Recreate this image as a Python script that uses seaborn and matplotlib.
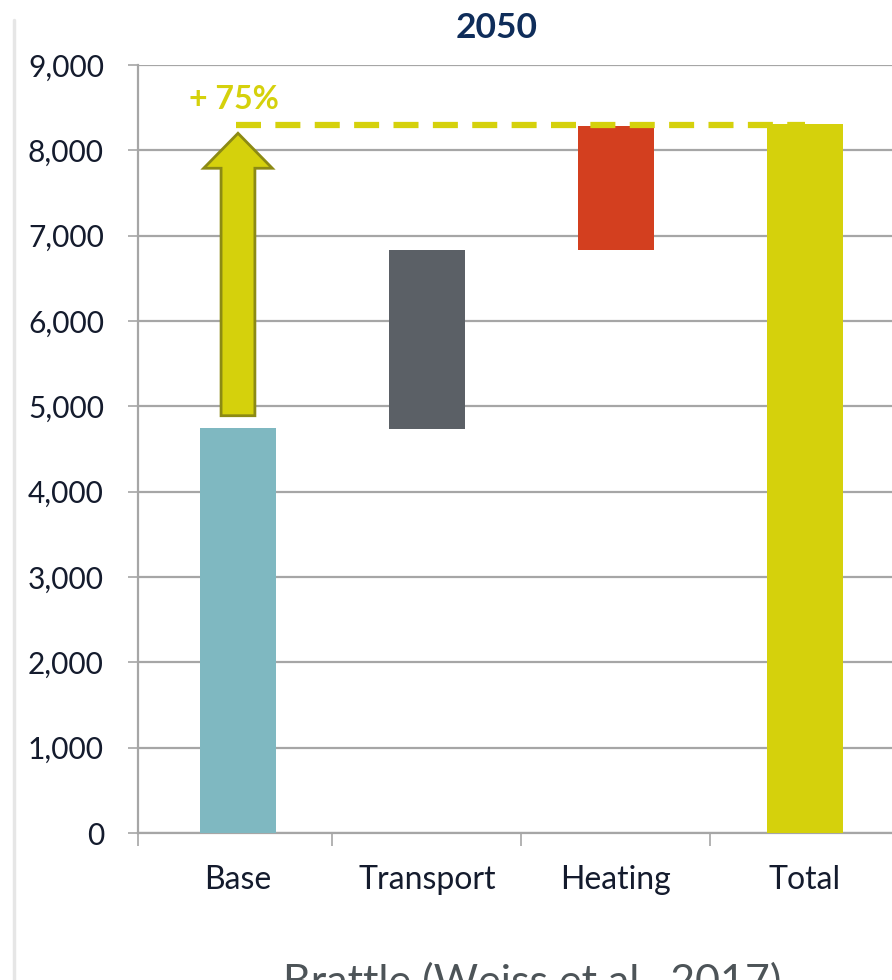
import matplotlib
matplotlib.use("Agg")
import matplotlib.pyplot as plt
from matplotlib.patches import FancyArrow
from matplotlib.lines import Line2D
from matplotlib.ticker import FuncFormatter, FixedLocator
import seaborn as sns
import pandas as pd

# Waterfall of electricity demand in 2050
categories = ["Base", "Transport", "Heating", "Total"]
seg_start = [0, 4730, 6830, 0]
seg_end = [4750, 6830, 8290, 8310]
bar_colors = ["#7fb8c1", "#5b6066", "#d33f1f", "#d5d10c"]

growth_label = "+ 75%"
arrow_from = 4890
arrow_to = 8200
total_level = 8300

y_ticks = [0, 1000, 2000, 3000, 4000, 5000, 6000, 7000, 8000, 9000]

sns.set_theme(style="white")
plt.rcParams["font.family"] = ["Lato", "DejaVu Sans"]

fig = plt.figure(figsize=(8.92, 9.8), dpi=100)
x_left = -0.529
x_right = 3.5
ax = fig.add_axes([138 / 892, 147 / 980, 761.5 / 892, 768 / 980])

df = pd.DataFrame({"category": categories, "top": seg_end})
sns.barplot(data=df, x="category", y="top", hue="category", palette=bar_colors,
            order=categories, hue_order=categories, width=0.4, saturation=1,
            legend=False, ax=ax, zorder=3, edgecolor="none")

# lift each bar so it spans from its start to its end
for patch, lo, hi in zip(ax.patches, seg_start, seg_end):
    patch.set_y(lo)
    patch.set_height(hi - lo)

ax.set_xlim(x_left, x_right)
ax.set_ylim(0, 9000)
ax.set_xlabel("")
ax.set_ylabel("")

# horizontal grid
ax.yaxis.set_major_locator(FixedLocator(y_ticks))
ax.yaxis.set_major_formatter(FuncFormatter(lambda v, p: f"{int(v):,}"))
ax.grid(axis="y", color="#a6a6a6", linewidth=1.6, zorder=0)
ax.grid(axis="x", visible=False)
ax.set_axisbelow(True)

for side in ["top", "right"]:
    ax.spines[side].set_visible(False)
for side in ["left", "bottom"]:
    ax.spines[side].set_color("#a6a6a6")
    ax.spines[side].set_linewidth(1.6)

tick_color = "#141b2d"
ax.tick_params(axis="y", which="major", length=7.5, width=1.2, color="#a6a6a6",
               direction="out", pad=17, labelsize=21.5, labelcolor=tick_color, left=True)
ax.set_xticks(range(len(categories)))
ax.set_xticklabels(categories)
ax.set_xticks([x_left, 0.5, 1.5, 2.5, x_right], minor=True)
ax.tick_params(axis="x", which="major", length=0, pad=23, labelsize=23,
               labelcolor=tick_color, bottom=True)
ax.tick_params(axis="x", which="minor", length=9, width=1.2, color="#a6a6a6",
               direction="out", bottom=True)

# growth arrow and level line
ax.add_patch(FancyArrow(0.0, arrow_from, 0, arrow_to - arrow_from,
                        width=0.179, head_width=0.363, head_length=410,
                        length_includes_head=True, facecolor="#d5d10c",
                        edgecolor="#8c8a14", linewidth=2, zorder=4))
ax.plot([-0.01, 3.0], [total_level, total_level], color="#d5d10c",
        linewidth=4.5, linestyle=(0, (4.0, 2.3)), solid_capstyle="butt",
        dash_capstyle="butt", zorder=5)
ax.text(-0.02, 8590, growth_label, color="#d5d10c", fontsize=23,
        fontweight="bold", ha="center", va="center", zorder=6)

fig.text(497 / 892, 952 / 980, "2050", color="#0f2d5a", fontsize=25.5,
         fontweight="bold", ha="center", va="center")

fig.text(532 / 892, -15 / 980, "Brattle (Weiss et al., 2017)", color="#4d5458",
         fontsize=31, ha="center", va="baseline")

# frame edge along the left side
fig.add_artist(Line2D([14.5 / 892, 14.5 / 892], [0, 960 / 980],
                      transform=fig.transFigure, color="#e6e6e6", linewidth=2.5))

fig.savefig("out.png", dpi=100)
